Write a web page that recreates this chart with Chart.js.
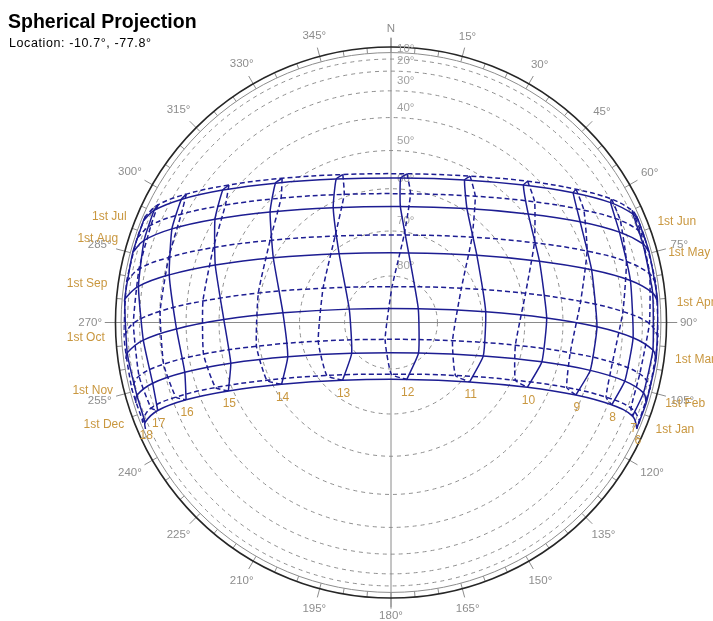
<!DOCTYPE html>
<html>
<head>
<meta charset="utf-8">
<title>Spherical Projection</title>
<script src="https://cdn.jsdelivr.net/npm/chart.js@4.4.1/dist/chart.umd.min.js"></script>
<style>
  body { margin: 0; background: #fff; }
</style>
</head>
<body>
<canvas id="sun_canvas" width="713" height="621"></canvas>
<script>
// sun path for 1st of each month, x = east, y = north (unit = horizon radius)
const months = ['1st Jan', '1st Feb', '1st Mar', '1st Apr', '1st May', '1st Jun',
                '1st Jul', '1st Aug', '1st Sep', '1st Oct', '1st Nov', '1st Dec'];
const hourLabels = ['6', '7', '8', '9', '10', '11', '12', '13', '14', '15', '16', '17', '18'];
const altitudes = [10, 20, 30, 40, 50, 60, 70, 80];
const azimuths = [0, 15, 30, 45, 60, 75, 90, 105, 120, 135, 150, 165, 180,
                  195, 210, 225, 240, 255, 270, 285, 300, 315, 330, 345];

// positions at 06:00 ... 18:00, null = sun below horizon
const sunX = [
  [0.919, 0.903, 0.825, 0.691, 0.510, 0.294, 0.059, -0.181, -0.409, -0.608, -0.766, -0.872, -0.919],
  [null, 0.944, 0.874, 0.745, 0.564, 0.345, 0.103, -0.147, -0.386, -0.599, -0.771, -0.891, -0.950],
  [null, 0.979, 0.905, 0.770, 0.582, 0.354, 0.102, -0.156, -0.404, -0.625, -0.802, -0.926, -0.986],
  [null, 0.978, 0.895, 0.750, 0.555, 0.321, 0.066, -0.194, -0.440, -0.657, -0.829, -0.944, -0.995],
  [null, 0.942, 0.854, 0.707, 0.513, 0.284, 0.035, -0.216, -0.452, -0.658, -0.819, -0.923, null],
  [null, 0.904, 0.821, 0.681, 0.495, 0.275, 0.036, -0.205, -0.432, -0.629, -0.784, -0.886, null],
  [null, 0.902, 0.825, 0.692, 0.511, 0.296, 0.060, -0.180, -0.407, -0.606, -0.765, -0.871, null],
  [null, 0.934, 0.857, 0.721, 0.537, 0.315, 0.073, -0.175, -0.411, -0.619, -0.784, -0.897, null],
  [null, 0.967, 0.880, 0.733, 0.536, 0.303, 0.049, -0.209, -0.452, -0.664, -0.831, -0.942, -0.988],
  [0.999, 0.966, 0.867, 0.709, 0.503, 0.263, 0.004, -0.254, -0.496, -0.703, -0.863, -0.963, -0.999],
  [0.969, 0.930, 0.828, 0.670, 0.465, 0.230, -0.022, -0.272, -0.503, -0.701, -0.850, -0.942, -0.969],
  [0.929, 0.897, 0.804, 0.657, 0.465, 0.241, 0.001, -0.240, -0.464, -0.656, -0.804, -0.897, -0.929]
];
const sunY = [
  [-0.395, -0.350, -0.308, -0.271, -0.242, -0.222, -0.213, -0.216, -0.231, -0.256, -0.289, -0.329, -0.373],
  [null, -0.263, -0.219, -0.179, -0.147, -0.125, -0.114, -0.115, -0.128, -0.152, -0.186, -0.227, -0.272],
  [null, -0.103, -0.057, -0.016, 0.017, 0.040, 0.051, 0.050, 0.036, 0.011, -0.024, -0.066, -0.113],
  [null, 0.111, 0.157, 0.197, 0.229, 0.251, 0.260, 0.257, 0.242, 0.215, 0.178, 0.135, 0.088],
  [null, 0.294, 0.338, 0.377, 0.406, 0.426, 0.434, 0.429, 0.413, 0.386, 0.350, 0.307, null],
  [null, 0.406, 0.448, 0.485, 0.514, 0.533, 0.540, 0.536, 0.521, 0.495, 0.460, 0.419, null],
  [null, 0.419, 0.461, 0.498, 0.528, 0.547, 0.556, 0.553, 0.539, 0.514, 0.480, 0.440, null],
  [null, 0.338, 0.382, 0.420, 0.451, 0.472, 0.481, 0.479, 0.465, 0.439, 0.405, 0.364, null],
  [null, 0.182, 0.228, 0.267, 0.298, 0.319, 0.327, 0.323, 0.307, 0.280, 0.243, 0.200, 0.153],
  [-0.052, -0.004, 0.041, 0.079, 0.109, 0.128, 0.134, 0.128, 0.110, 0.080, 0.042, -0.003, -0.051],
  [-0.239, -0.192, -0.149, -0.113, -0.085, -0.068, -0.063, -0.070, -0.089, -0.118, -0.156, -0.200, -0.247],
  [-0.365, -0.320, -0.279, -0.243, -0.216, -0.198, -0.193, -0.198, -0.216, -0.243, -0.279, -0.320, -0.365]
];
// sunrise / sunset points on the horizon
const riseX = [0.918, 0.954, 0.991, 0.997, 0.965, 0.925, 0.917, 0.949, 0.989, 0.999, 0.968, 0.926];
const riseY = [-0.398, -0.301, -0.136, 0.078, 0.263, 0.381, 0.399, 0.316, 0.149, -0.053, -0.251, -0.378];
const setX = [-0.918, -0.954, -0.991, -0.997, -0.965, -0.925, -0.917, -0.949, -0.989, -0.999, -0.968, -0.926];
const setY = [-0.398, -0.301, -0.136, 0.078, 0.263, 0.381, 0.399, 0.316, 0.149, -0.053, -0.251, -0.378];

const BLUE = '#1d1d92';
const GOLD = '#c9973f';
const DASH = [5, 3];

function sunPoint(m, h) {
  if (sunX[m][h] !== null) return {x: sunX[m][h], y: sunY[m][h]};
  // below horizon: hold on the rim
  return h < 6 ? {x: riseX[m], y: riseY[m]} : {x: setX[m], y: setY[m]};
}

const datasets = [];
// day paths, Jan-Jun solid, Jul-Dec dashed
for (var m = 0; m < 12; m++) {
  var pts = [{x: riseX[m], y: riseY[m]}];
  for (var h = 0; h < hourLabels.length; h++) {
    if (sunX[m][h] !== null) pts.push({x: sunX[m][h], y: sunY[m][h]});
  }
  pts.push({x: setX[m], y: setY[m]});
  datasets.push({label: months[m], data: pts, borderDash: m < 6 ? [] : DASH, tension: 0.4});
}
// hour lines (analemma), first half of year solid, second half dashed
for (var h = 0; h < hourLabels.length; h++) {
  var first = [], second = [];
  for (var m = 0; m <= 6; m++) first.push(sunPoint(m, h));
  for (var m = 6; m < 12; m++) second.push(sunPoint(m, h));
  second.push(sunPoint(0, h));
  datasets.push({label: hourLabels[h], data: first, borderDash: [], tension: 0.15});
  datasets.push({label: hourLabels[h] + 'b', data: second, borderDash: DASH, tension: 0.15});
}
datasets.forEach(function(d) {
  d.showLine = true;
  d.borderColor = BLUE;
  d.borderWidth = 1.5;
  d.pointRadius = 0;
  d.fill = false;
});

function rad(a) { return a * Math.PI / 180; }

const decor = {
  id: 'decor',
  beforeDatasetsDraw(chart) {
    const c = chart.ctx;
    const xs = chart.scales.x, ys = chart.scales.y;
    const cx = xs.getPixelForValue(0), cy = ys.getPixelForValue(0);
    const R = xs.getPixelForValue(1) - cx;
    c.save();
    // altitude rings
    c.strokeStyle = '#8f8f8f';
    c.lineWidth = 1;
    c.setLineDash([4, 4]);
    altitudes.forEach(function(a) {
      c.beginPath();
      c.arc(cx, cy, R * Math.cos(rad(a)), 0, 2 * Math.PI);
      c.stroke();
    });
    c.setLineDash([]);
    // axes
    c.strokeStyle = '#8a8a8a';
    c.beginPath();
    c.moveTo(cx, cy - R * 1.065); c.lineTo(cx, cy + R * 1.07);
    c.moveTo(cx - R * 1.07, cy); c.lineTo(cx + R * 1.07, cy);
    c.stroke();
    // horizon ring + ticks
    c.strokeStyle = '#8c8c8c';
    c.beginPath();
    c.arc(cx, cy, R * 1.009, 0, 2 * Math.PI);
    c.stroke();
    for (var a = 0; a < 360; a += 5) {
      var s = Math.sin(rad(a)), k = Math.cos(rad(a));
      var r2 = (a % 15 === 0) ? R * 1.064 : R * 1.03;
      c.beginPath();
      c.moveTo(cx + R * 1.009 * s, cy - R * 1.009 * k);
      c.lineTo(cx + r2 * s, cy - r2 * k);
      c.stroke();
    }
    c.strokeStyle = '#262626';
    c.lineWidth = 1.6;
    c.beginPath();
    c.arc(cx, cy, R * 1.03, 0, 2 * Math.PI);
    c.stroke();
    // azimuth labels
    c.font = '11.5px "Liberation Sans", Arial, sans-serif';
    c.fillStyle = '#8d8d8d';
    c.textAlign = 'center';
    c.textBaseline = 'middle';
    azimuths.forEach(function(a) {
      var txt = a === 0 ? 'N' : a + '\u00b0';
      var w = c.measureText(txt).width;
      var s = Math.sin(rad(a)), k = Math.cos(rad(a));
      var r = R * 1.08 + (w / 2) * Math.abs(s) + 4.5 * Math.abs(k);
      c.fillText(txt, cx + r * s, cy - r * k);
    });
    // altitude labels
    c.fillStyle = '#a2a2a2';
    c.textAlign = 'left';
    altitudes.forEach(function(a) {
      c.fillText(a + '\u00b0', cx + 6, cy - R * Math.cos(rad(a)) - 10);
    });
    c.restore();
  },
  afterDatasetsDraw(chart) {
    const c = chart.ctx;
    const xs = chart.scales.x, ys = chart.scales.y;
    c.save();
    c.font = '12px "Liberation Sans", Arial, sans-serif';
    c.fillStyle = GOLD;
    c.textBaseline = 'middle';
    for (var m = 0; m < 12; m++) {
      if (m < 6) {
        c.textAlign = 'left';
        c.fillText(months[m], xs.getPixelForValue(riseX[m]) + 19, ys.getPixelForValue(riseY[m]) + 1);
      } else {
        c.textAlign = 'right';
        c.fillText(months[m], xs.getPixelForValue(setX[m]) - 19, ys.getPixelForValue(setY[m]) + 1);
      }
    }
    c.textAlign = 'center';
    for (var h = 0; h < hourLabels.length; h++) {
      var p = sunPoint(0, h);
      c.fillText(hourLabels[h], xs.getPixelForValue(p.x) + 1, ys.getPixelForValue(p.y) + 13);
    }
    // heading
    c.fillStyle = '#000';
    c.textAlign = 'left';
    c.textBaseline = 'alphabetic';
    c.font = 'bold 19.5px "Liberation Sans", Arial, sans-serif';
    c.fillText('Spherical Projection', 8, 28);
    c.font = '12.5px "Liberation Sans", Arial, sans-serif';
    c.letterSpacing = '0.6px';
    c.fillText('Location: -10.7\u00b0, -77.8\u00b0', 9, 47);
    c.restore();
  }
};

const ctx = document.getElementById('sun_canvas');
const config = {
  type: 'scatter',
  data: { datasets: datasets },
  options: {
    responsive: false,
    animation: false,
    layout: { padding: { left: 123.5, right: 54.5, top: 55, bottom: 31 } },
    scales: {
      x: { type: 'linear', min: -1, max: 1, display: false },
      y: { type: 'linear', min: -1, max: 1, display: false }
    },
    plugins: {
      legend: { display: false },
      tooltip: { enabled: false }
    }
  },
  plugins: [decor]
};

var sunChart = new Chart(ctx, config);
</script>
</body>
</html>
